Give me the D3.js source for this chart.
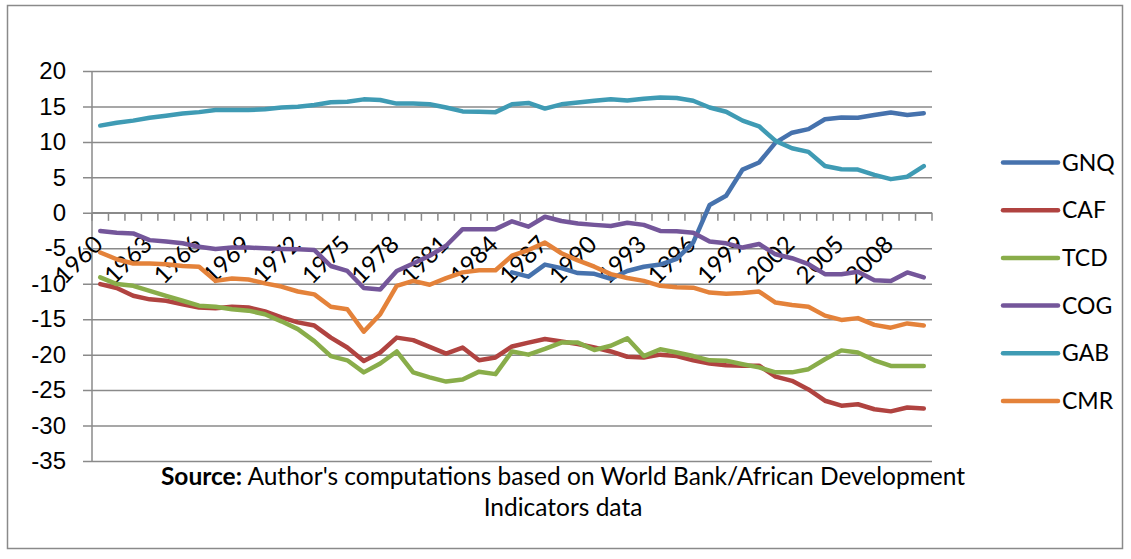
<!DOCTYPE html>
<html>
<head>
<meta charset="utf-8">
<script src="https://cdn.jsdelivr.net/npm/d3@7"></script>
<style>
  body { margin: 0; background: #fff; }
  svg { display: block; font-family: Lato, "Open Sans", sans-serif; }
</style>
</head>
<body>
<div id="chart"></div>
<script>
// trade balance style chart, six CEMAC countries, 1960-2010

const years = [1960, 1961, 1962, 1963, 1964, 1965, 1966, 1967, 1968, 1969,
  1970, 1971, 1972, 1973, 1974, 1975, 1976, 1977, 1978, 1979,
  1980, 1981, 1982, 1983, 1984, 1985, 1986, 1987, 1988, 1989,
  1990, 1991, 1992, 1993, 1994, 1995, 1996, 1997, 1998, 1999,
  2000, 2001, 2002, 2003, 2004, 2005, 2006, 2007, 2008, 2009, 2010];

const tickYears = [1960, 1963, 1966, 1969, 1972, 1975, 1978, 1981, 1984,
  1987, 1990, 1993, 1996, 1999, 2002, 2005, 2008];

const yTicks = [20, 15, 10, 5, 0, -5, -10, -15, -20, -25, -30, -35];

const countries = ["GNQ", "CAF", "TCD", "COG", "GAB", "CMR"];

const GNQ = [null, null, null, null, null, null, null, null, null, null,
  null, null, null, null, null, null, null, null, null, null,
  null, null, null, null, null, -8.4, -9.0, -7.3, -7.8, -8.5,
  -8.6, -9.3, -8.2, -7.6, -7.3, -6.5, -4.2, 1.1, 2.4, 6.1,
  7.1, 9.9, 11.3, 11.8, 13.2, 13.45, 13.4, 13.8, 14.15, 13.8, 14.05];

const CAF = [-10.05, -10.6, -11.7, -12.2, -12.4, -12.9, -13.35, -13.45, -13.25, -13.35,
  -13.9, -14.75, -15.45, -15.9, -17.6, -19.0, -20.9, -19.7, -17.6, -17.95,
  -18.9, -19.85, -19.0, -20.8, -20.4, -18.85, -18.3, -17.8, -18.15, -18.5,
  -19.0, -19.55, -20.3, -20.4, -20.0, -20.2, -20.8, -21.25, -21.5, -21.55,
  -21.55, -23.1, -23.7, -24.9, -26.5, -27.2, -27.0, -27.7, -28.0, -27.45, -27.6];

const TCD = [-9.1, -10.05, -10.3, -11.0, -11.7, -12.4, -13.1, -13.25, -13.6, -13.8,
  -14.3, -15.3, -16.4, -18.1, -20.2, -20.8, -22.5, -21.25, -19.55, -22.5,
  -23.2, -23.8, -23.5, -22.4, -22.75, -19.55, -20.0, -19.2, -18.3, -18.3,
  -19.35, -18.75, -17.7, -20.2, -19.25, -19.7, -20.2, -20.8, -20.85, -21.35,
  -21.8, -22.5, -22.5, -22.05, -20.65, -19.4, -19.7, -20.8, -21.6, -21.6, -21.6];

const COG = [-2.55, -2.8, -2.9, -3.85, -4.05, -4.3, -4.8, -5.1, -4.9, -4.9,
  -5.0, -5.1, -5.15, -5.25, -7.5, -8.2, -10.6, -10.8, -8.2, -7.15,
  -6.05, -4.65, -2.3, -2.3, -2.3, -1.2, -1.95, -0.55, -1.15, -1.5,
  -1.7, -1.85, -1.4, -1.7, -2.55, -2.6, -2.8, -4.05, -4.3, -4.9,
  -4.4, -5.85, -6.4, -7.25, -8.65, -8.65, -8.3, -9.5, -9.6, -8.4, -9.1];

const GAB = [12.3, 12.7, 13.0, 13.4, 13.7, 14.0, 14.2, 14.5, 14.5, 14.5,
  14.6, 14.85, 14.95, 15.2, 15.6, 15.65, 16.0, 15.9, 15.4, 15.4,
  15.3, 14.85, 14.3, 14.25, 14.2, 15.3, 15.5, 14.7, 15.3, 15.55,
  15.8, 16.0, 15.85, 16.1, 16.25, 16.2, 15.8, 14.85, 14.25, 13.0,
  12.2, 10.15, 9.1, 8.6, 6.6, 6.15, 6.1, 5.35, 4.75, 5.1, 6.6];

const CMR = [-5.6, -6.55, -7.15, -7.15, -7.25, -7.5, -7.6, -9.6, -9.25, -9.4,
  -9.95, -10.4, -11.1, -11.5, -13.25, -13.6, -16.75, -14.3, -10.3, -9.6,
  -10.15, -9.2, -8.4, -8.1, -8.1, -6.05, -5.25, -4.2, -5.7, -6.7,
  -7.6, -8.65, -9.2, -9.6, -10.3, -10.5, -10.55, -11.25, -11.4, -11.3,
  -11.1, -12.65, -13.0, -13.25, -14.5, -15.1, -14.85, -15.8, -16.2, -15.6, -15.9];

const seriesValues = [GNQ, CAF, TCD, COG, GAB, CMR];
const colors = ["#4672ad", "#b04340", "#89ad4a", "#74569a", "#3f9bb4", "#e4823a"];

// 1. Dimensions
const width = 1131, height = 559;
const plot = { left: 92, right: 932, top: 71, bottom: 461 };
const gridColor = "#8a8a8a";

const svg = d3.select("#chart").append("svg")
  .attr("width", width)
  .attr("height", height);

// outer frame
svg.append("rect")
  .attr("x", 7.5).attr("y", 5.5)
  .attr("width", 1115).attr("height", 543)
  .attr("fill", "none")
  .attr("stroke", gridColor)
  .attr("stroke-width", 1.5);

// 2. Scales
const x = d3.scaleBand().domain(years).range([plot.left, plot.right]).padding(0);
const y = d3.scaleLinear().domain([-35, 20]).range([plot.bottom, plot.top]);
const cx = d => x(d) + x.bandwidth() / 2;

// 3. Gridlines + y axis (hyphen minus like the original)
const yAxis = d3.axisLeft(y)
  .tickValues(yTicks)
  .tickSize(-(plot.right - plot.left))
  .tickPadding(26)
  .tickFormat(d => String(d));

const gy = svg.append("g")
  .attr("transform", `translate(${plot.left},0)`)
  .call(yAxis);
gy.select(".domain").remove();
gy.selectAll(".tick line")
  .attr("x1", -9)
  .attr("stroke", gridColor)
  .attr("stroke-width", 1.5);
gy.selectAll(".tick text")
  .style("font-size", "24px")
  .attr("fill", "#000");

// vertical axis line
svg.append("line")
  .attr("x1", plot.left).attr("x2", plot.left)
  .attr("y1", plot.top).attr("y2", plot.bottom)
  .attr("stroke", gridColor).attr("stroke-width", 1.5);

// 4. Category axis crossing at zero
const gx = svg.append("g").attr("transform", `translate(0,${y(0)})`);
gx.append("line")
  .attr("x1", plot.left).attr("x2", plot.right)
  .attr("stroke", gridColor).attr("stroke-width", 1.5);

const boundaries = years.map(d => x(d)).concat([x(years[years.length - 1]) + x.bandwidth()]);
gx.selectAll(".xtick")
  .data(boundaries)
  .enter().append("line")
  .attr("class", "xtick")
  .attr("x1", d => d).attr("x2", d => d)
  .attr("y1", 0).attr("y2", 8)
  .attr("stroke", gridColor).attr("stroke-width", 1.5);

gx.selectAll(".xlabel")
  .data(tickYears)
  .enter().append("text")
  .attr("class", "xlabel")
  .attr("transform", d => `translate(${cx(d) + 4},33) rotate(-45)`)
  .attr("text-anchor", "end")
  .style("font-size", "24px")
  .attr("fill", "#000")
  .text(d => d);

// 5. Lines
const line = d3.line()
  .defined(d => d.v !== null)
  .x(d => cx(d.year))
  .y(d => y(d.v));

countries.forEach((name, i) => {
  const pts = years.map((yr, j) => ({ year: yr, v: seriesValues[i][j] }));
  svg.append("path")
    .datum(pts)
    .attr("d", line)
    .attr("fill", "none")
    .attr("stroke", colors[i])
    .attr("stroke-width", 4.5)
    .attr("stroke-linejoin", "round")
    .attr("stroke-linecap", "round");
});

// 6. Legend
const legend = svg.append("g").attr("transform", "translate(1003,162.5)");
const items = legend.selectAll(".legend-item")
  .data(countries)
  .enter().append("g")
  .attr("class", "legend-item")
  .attr("transform", (d, i) => `translate(0,${i * 47.7})`);

items.append("line")
  .attr("x1", 0).attr("x2", 55)
  .attr("stroke", (d, i) => colors[i])
  .attr("stroke-width", 4.5)
  .attr("stroke-linecap", "round");

items.append("text")
  .attr("x", 59)
  .attr("dy", "0.35em")
  .style("font-size", "23px")
  .attr("fill", "#000")
  .text(d => d);

// 7. Source note
const note = svg.append("text")
  .attr("x", 563).attr("y", 485)
  .attr("text-anchor", "middle")
  .style("font-size", "24.5px")
  .attr("fill", "#000");
note.append("tspan").style("font-weight", "bold").text("Source:");
note.append("tspan").text(" Author's computations based on World Bank/African Development");

svg.append("text")
  .attr("x", 563).attr("y", 516)
  .attr("text-anchor", "middle")
  .style("font-size", "24.5px")
  .attr("fill", "#000")
  .text("Indicators data");
</script>
</body>
</html>
